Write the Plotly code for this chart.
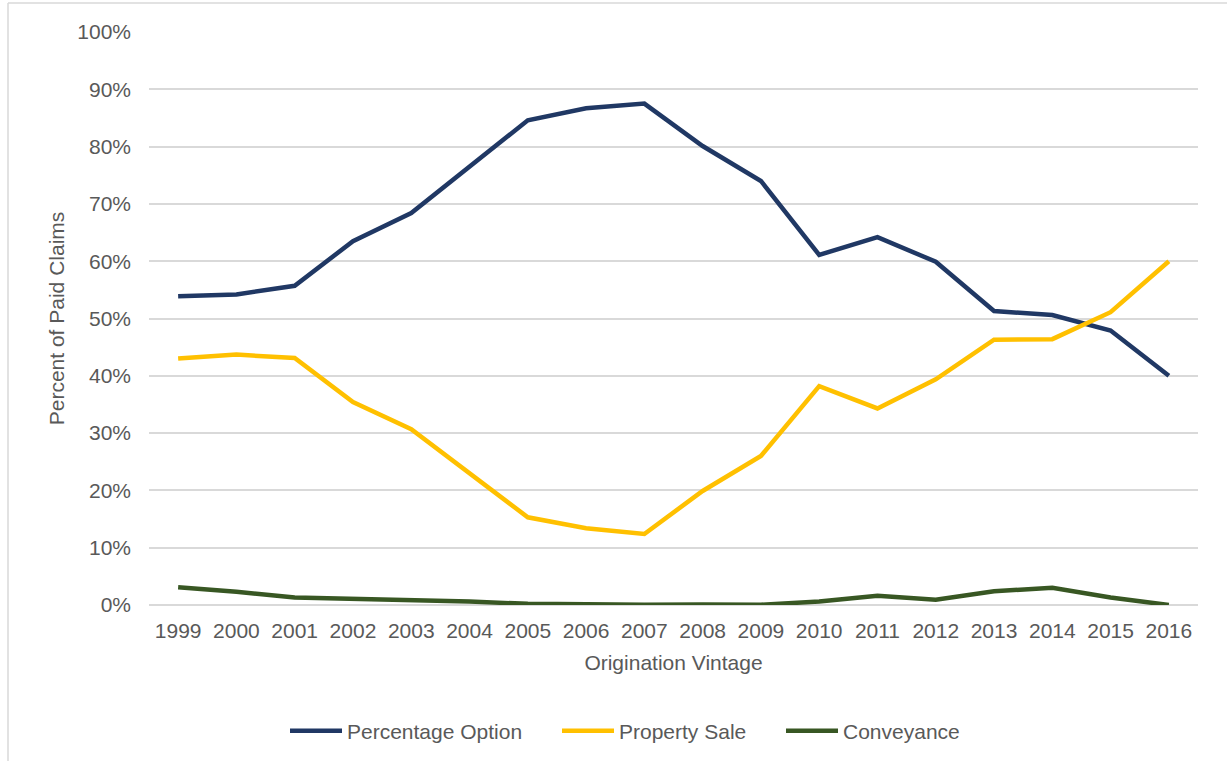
import plotly.graph_objects as go

years = [str(y) for y in range(1999, 2017)]
percentage_option = [53.9, 54.2, 55.7, 63.5, 68.4, 76.6, 84.6, 86.7, 87.5, 80.1, 74.0, 61.1, 64.2, 59.9, 51.3, 50.6, 47.9, 40.0]
property_sale = [43.0, 43.7, 43.1, 35.4, 30.7, 23.0, 15.3, 13.4, 12.4, 19.9, 26.0, 38.2, 34.3, 39.4, 46.3, 46.4, 51.1, 60.0]
conveyance = [3.1, 2.3, 1.3, 1.1, 0.9, 0.6, 0.2, 0.1, 0.05, 0.1, 0.05, 0.6, 1.6, 0.9, 2.4, 3.0, 1.3, 0.0]

series = [
    ("Percentage Option", percentage_option, "#203864", "legend"),
    ("Property Sale", property_sale, "#FFC000", "legend2"),
    ("Conveyance", conveyance, "#385723", "legend3"),
]

fig = go.Figure()
for name, vals, color, lg in series:
    fig.add_trace(go.Scatter(
        x=years, y=[v / 100 for v in vals], name=name, mode="lines",
        line=dict(color=color, width=4.5), legend=lg,
    ))

W, H = 1227, 761
L, R, T, B = 149, W - 1198, 32, H - 605
pw, ph = W - L - R, H - T - B

def px2x(px):
    return (px - L) / pw

def py2y(py):
    return (H - B - py) / ph

FS = 21

def legend_at(xpx):
    return dict(orientation="h", xref="container", yref="container",
                x=xpx / W, xanchor="left", y=1 - 731 / H, yanchor="middle",
                font=dict(size=FS, color="#595959"), itemwidth=52,
                bgcolor="rgba(0,0,0,0)")

fig.update_layout(
    width=W, height=H,
    margin=dict(l=L, r=R, t=T, b=B),
    paper_bgcolor="white", plot_bgcolor="white",
    font=dict(family="Liberation Sans, Arial, sans-serif", color="#595959", size=FS),
    showlegend=True,
    legend=legend_at(285),
    legend2=legend_at(557),
    legend3=legend_at(781),
    xaxis=dict(type="category", range=[-0.5, 17.5], showgrid=False, zeroline=False,
               showline=False, ticks="", tickfont=dict(size=FS, color="#595959"),
               ticklabelstandoff=11,
               title=dict(text="Origination Vintage", font=dict(size=FS, color="#595959"), standoff=14)),
    yaxis=dict(range=[0, 1.0], dtick=0.1, tickformat=".0%", showgrid=True,
               gridcolor="#D9D9D9", gridwidth=1.6, zeroline=True, zerolinecolor="#D9D9D9",
               zerolinewidth=1.6, showline=False, ticks="", ticklabelstandoff=17,
               tickfont=dict(size=FS, color="#595959"),
               title=dict(text="Percent of Paid Claims", font=dict(size=FS, color="#595959"), standoff=6)),
    shapes=[
        dict(type="line", xref="paper", yref="paper", x0=px2x(8), x1=px2x(1240), y0=py2y(3), y1=py2y(3),
             line=dict(color="#D9D9D9", width=1.5)),
        dict(type="line", xref="paper", yref="paper", x0=px2x(8), x1=px2x(8), y0=py2y(3), y1=py2y(770),
             line=dict(color="#D9D9D9", width=1.5)),
    ],
)

fig.write_html("out.html", config={"displayModeBar": False},
               post_script="document.body.style.margin='0';")
